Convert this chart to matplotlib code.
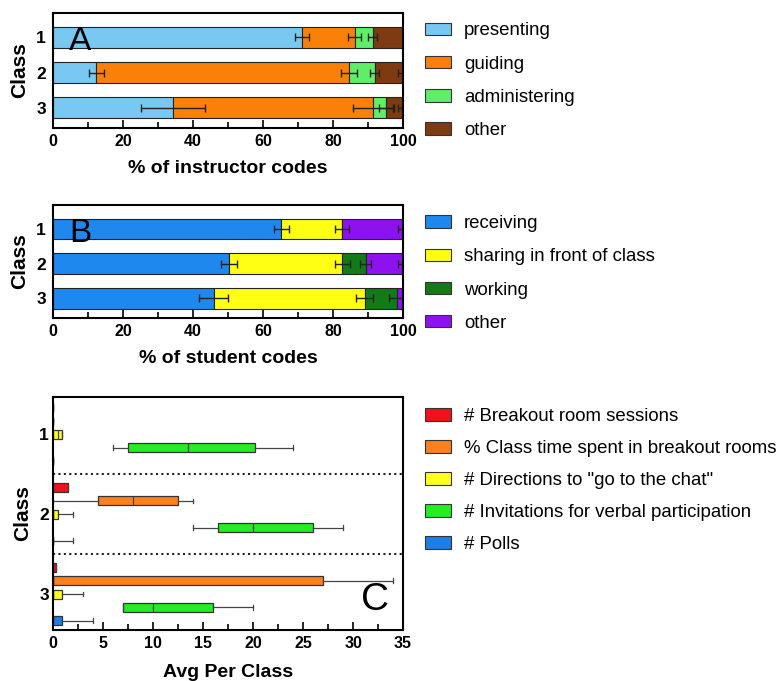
import matplotlib
matplotlib.use('Agg')
import matplotlib.pyplot as plt
import numpy as np
from matplotlib.patches import Patch
from matplotlib.ticker import MultipleLocator

plt.rcParams['font.family'] = ['Liberation Sans', 'DejaVu Sans']
plt.rcParams['axes.linewidth'] = 1.5

# Daten
classes = ['1', '2', '3']

# Panel A: Lehrende (% der Codes)
presenting = [71.1, 12.4, 34.3]
guiding = [15.1, 72.2, 57.1]
administering = [5.1, 7.3, 3.8]
instr_other = [8.7, 8.1, 4.8]
presenting_err = [2.0, 2.2, 9.2]
guiding_err = [1.8, 2.3, 5.8]
administering_err = [1.2, 1.2, 2.2]
instr_other_err = [0.0, 1.5, 1.5]

# Panel B: Lernende (% der Codes)
receiving = [65.2, 50.3, 45.9]
sharing = [17.5, 32.4, 43.1]
working = [0.0, 6.6, 9.3]
stud_other = [17.3, 10.7, 1.7]
receiving_err = [2.1, 2.3, 4.2]
sharing_err = [2.0, 2.2, 2.5]
working_err = [0.0, 1.5, 2.3]
stud_other_err = [1.4, 1.5, 0.0]

# Panel C: (whislo, q1, median, q3, whishi) je Klasse
breakout_sessions = [(0, 0, 0, 0, 0), (0, 0, 0, 1.5, 1.5), (0, 0, 0, 0.3, 0.3)]
breakout_time = [(0, 0, 0, 0, 0), (0, 4.5, 8, 12.5, 14), (0, 0, 0, 27, 34)]
chat_directions = [(0, 0, 0.5, 0.9, 0.9), (0, 0, 0, 0.5, 2), (0, 0, 0, 0.9, 3)]
verbal_invites = [(6, 7.5, 13.5, 20.2, 24), (14, 16.5, 20, 26, 29), (7, 7, 10, 16, 20)]
polls = [(0, 0, 0, 0, 0), (0, 0, 0, 0, 2), (0, 0, 0, 0.9, 4)]

labels_a = ['presenting', 'guiding', 'administering', 'other']
colors_a = ['#78C8F2', '#FA8008', '#5EEE68', '#7E3A10']
labels_b = ['receiving', 'sharing in front of class', 'working', 'other']
colors_b = ['#1E88EE', '#FFFF14', '#137A18', '#8E12F0']
labels_c = ['# Breakout room sessions', '% Class time spent in breakout rooms',
            '# Directions to "go to the chat"', '# Invitations for verbal participation',
            '# Polls']
colors_c = ['#F0101E', '#FA8020', '#FFFF22', '#22EE22', '#1E7EE6']

fig = plt.figure(figsize=(7.82, 6.81), dpi=100)
axA = fig.add_axes([0.0678, 0.812, 0.4476, 0.169])
axB = fig.add_axes([0.0678, 0.533, 0.4476, 0.166])
axC = fig.add_axes([0.0678, 0.0749, 0.4476, 0.342])

tickfont = dict(fontsize=12.5, fontweight='bold')
labfont = dict(fontsize=14, fontweight='bold')
legkw = dict(loc='upper left', frameon=False, fontsize=13.4, borderpad=0,
             borderaxespad=0, handlelength=1.4, handleheight=0.65, handletextpad=0.7)


def stacked(ax, series, errs, colors, labels, xlabel, letter, legend_y):
    y = np.arange(1, len(classes) + 1)
    left = np.zeros(len(classes))
    for vals, err, col in zip(series, errs, colors):
        vals = np.array(vals)
        ax.barh(y, vals, left=left, height=0.6, color=col, edgecolor='#222222', linewidth=0.8)
        ends = left + vals
        show = np.array(err) > 0
        ax.errorbar(ends[show], y[show], xerr=np.array(err)[show], fmt='none',
                    ecolor='#222222', elinewidth=1.0, capsize=3, capthick=1.0)
        left = ends
    ax.set_xlim(0, 100)
    ax.set_ylim(3.57, 0.31)
    ax.set_yticks(y)
    ax.set_yticklabels(classes, **tickfont)
    ax.tick_params(axis='y', length=0, pad=5)
    ax.xaxis.set_major_locator(MultipleLocator(20))
    ax.xaxis.set_minor_locator(MultipleLocator(10))
    ax.tick_params(axis='x', which='major', direction='in', length=6, width=1.2, pad=4, labelsize=11.5)
    ax.tick_params(axis='x', which='minor', direction='in', length=4, width=1.2)
    for t in ax.get_xticklabels():
        t.set_fontweight('bold')
    ax.set_xlabel(xlabel, labelpad=8, **labfont)
    ax.set_ylabel('Class', labelpad=5, fontsize=15, fontweight='bold')
    ax.text(0.077, 0.75, letter, transform=ax.transAxes, fontsize=24,
            ha='center', va='center')
    handles = [Patch(facecolor=c, edgecolor='#333333', linewidth=0.8) for c in colors]
    fig.legend(handles, labels, bbox_to_anchor=(0.5435, legend_y),
               labelspacing=0.87, **legkw)


stacked(axA, [presenting, guiding, administering, instr_other],
        [presenting_err, guiding_err, administering_err, instr_other_err],
        colors_a, labels_a, '% of instructor codes', 'A', 0.967)
stacked(axB, [receiving, sharing, working, stud_other],
        [receiving_err, sharing_err, working_err, stud_other_err],
        colors_b, labels_b, '% of student codes', 'B', 0.684)

# Panel C: Boxplots je Kategorie, 6 Slots pro Klasse
groups = [breakout_sessions, breakout_time, chat_directions, verbal_invites, polls]
for slot, (grp, col) in enumerate(zip(groups, colors_c)):
    stats = []
    for lo, q1, med, q3, hi in grp:
        stats.append(dict(whislo=lo, q1=q1, med=med, q3=q3, whishi=hi, fliers=[]))
    pos = [i * 6 + slot for i in range(len(classes))]
    axC.bxp(stats, positions=pos, widths=0.68, orientation='horizontal',
            patch_artist=True, showfliers=False,
            boxprops=dict(facecolor=col, edgecolor='#333333', linewidth=0.9),
            medianprops=dict(color='#444444', linewidth=0.9),
            whiskerprops=dict(color='#444444', linewidth=0.9),
            capprops=dict(color='#444444', linewidth=0.9),
            capwidths=0.35)
for yb in [5, 11]:
    axC.axhline(yb, color='#222222', linestyle=(0, (1, 1.6)), linewidth=1.5)
axC.set_xlim(0, 35)
axC.set_ylim(16.7, -0.8)
axC.set_yticks([2, 8, 14])
axC.set_yticklabels(classes, **tickfont)
axC.tick_params(axis='y', length=0, pad=3)
axC.xaxis.set_major_locator(MultipleLocator(5))
axC.xaxis.set_minor_locator(MultipleLocator(2.5))
axC.tick_params(axis='x', which='major', direction='in', length=6, width=1.2, pad=4, labelsize=11.5)
axC.tick_params(axis='x', which='minor', direction='in', length=4, width=1.2)
for t in axC.get_xticklabels():
    t.set_fontweight('bold')
axC.set_xlabel('Avg Per Class', labelpad=10, **labfont)
axC.set_ylabel('Class', labelpad=5, fontsize=15, fontweight='bold')
axC.text(0.92, 0.13, 'C', transform=axC.transAxes, fontsize=28, ha='center', va='center')
handles_c = [Patch(facecolor=c, edgecolor='#333333', linewidth=0.8) for c in colors_c]
fig.legend(handles_c, labels_c, bbox_to_anchor=(0.5435, 0.401),
           labelspacing=0.81, **legkw)

fig.savefig('out.png', dpi=100)
